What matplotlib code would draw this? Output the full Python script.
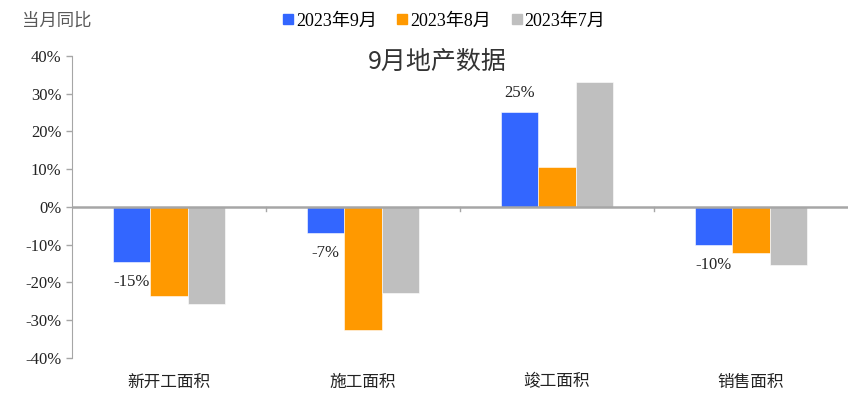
import matplotlib

matplotlib.use("Agg")
import matplotlib.pyplot as plt
import numpy as np

plt.rcParams["font.family"] = ["Liberation Serif", "Noto Sans CJK SC"]

categories = ["新开工面积", "施工面积", "竣工面积", "销售面积"]
series = ["2023年9月", "2023年8月", "2023年7月"]
sep_2023 = [-14.5, -7.0, 25.1, -10.1]
aug_2023 = [-23.5, -32.7, 10.5, -12.2]
jul_2023 = [-25.8, -22.7, 33.0, -15.5]
sep_labels = ["-15%", "-7%", "25%", "-10%"]
colors = ["#3366FF", "#FF9900", "#BFBFBF"]

fig = plt.figure(figsize=(8.64, 3.98), dpi=100)
ax = fig.add_axes([0.0833, 0.1005, 0.898, 0.7595])

x = np.arange(len(categories))
w = 0.193
for i, (vals, c, lab) in enumerate(zip([sep_2023, aug_2023, jul_2023], colors, series)):
    ax.bar(x + (i - 1) * w, vals, width=w, color=c, edgecolor="white", linewidth=0.4,
           label=lab, zorder=2)

# data labels for the latest month
for xi, v, t in zip(x, sep_2023, sep_labels):
    off = 14 if v > 0 else -14.5
    ax.annotate(t, (xi - w, v), xytext=(0, off), textcoords="offset points",
                ha="center", va="center", fontsize=12, color="#222222")

ax.axhline(0, color="#A6A6A6", lw=1.8, zorder=3)
ax.set_xlim(-0.5, len(categories) - 0.5)
ax.set_ylim(-40, 40)
ax.set_yticks(range(-40, 41, 10))
ax.set_yticklabels([f"{v}%" for v in range(-40, 41, 10)], fontsize=12)
ax.set_xticks([])
for s in ("top", "right", "bottom"):
    ax.spines[s].set_visible(False)
ax.spines["left"].set_color("#A6A6A6")
ax.tick_params(axis="y", colors="#A6A6A6", labelcolor="#222222", length=4, width=1)

# category names under the plot, minor ticks at the zero line between groups
for xi, name in zip(x, categories):
    ax.text(xi, -46.5, name, ha="center", va="center", fontsize=12, color="#222222")
for b in x[:-1] + 0.5:
    ax.plot([b, b], [0, -1.2], color="#A6A6A6", lw=1, zorder=3)

fig.text(0.506, 0.845, "9月地产数据", ha="center", va="center",
         fontsize=18, family=["Noto Sans CJK SC"], color="#333333")

handles = [plt.Line2D([], [], marker="s", ls="", color=c, markersize=7) for c in colors]
fig.legend(handles, series, loc="center", bbox_to_anchor=(0.513, 0.947), ncol=3,
           frameon=False, fontsize=13, handletextpad=0.05, columnspacing=1.0,
           handlelength=0.8)
fig.text(0.026, 0.947, "当月同比", ha="left", va="center", fontsize=12.5, color="#595959")

fig.savefig("out.png", dpi=100)
